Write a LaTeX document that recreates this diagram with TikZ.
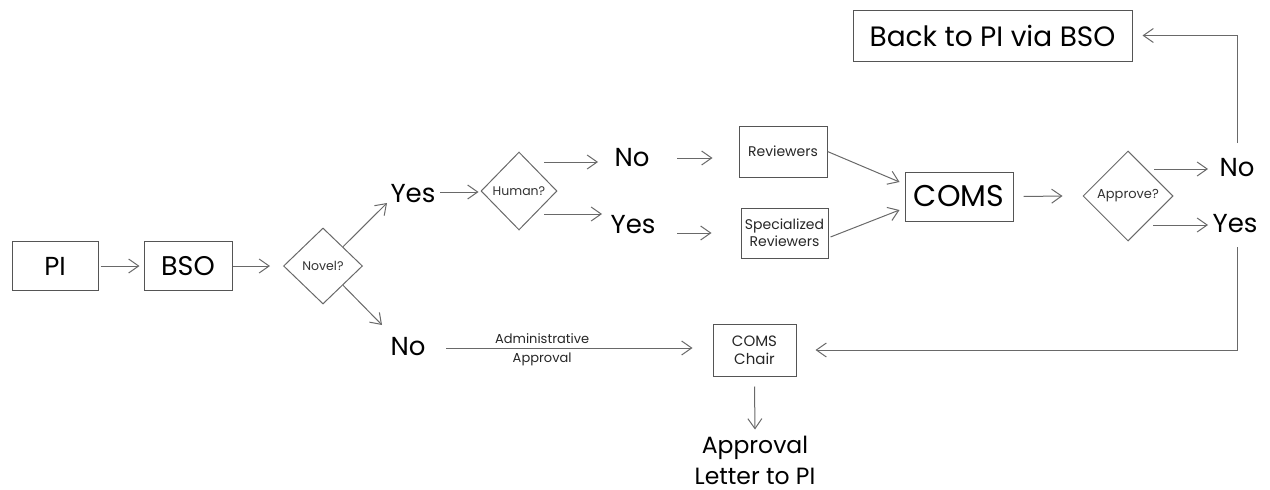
\documentclass[tikz,border=0pt]{standalone}
\usepackage{fontspec}
\setmainfont{Poppins}
\usetikzlibrary{arrows.meta,shapes.geometric}
\definecolor{linegray}{HTML}{696969}
\definecolor{boxgray}{HTML}{555555}
\tikzset{
  big/.style={font=\fontsize{26}{31}\selectfont, inner sep=0pt, text=black},
  small/.style={font=\fontsize{14}{16}\selectfont, inner sep=0pt, text=black!85},
  box/.style={draw=boxgray, line width=1pt, inner sep=0pt, align=center},
  dia/.style={diamond, draw=linegray, line width=1pt, inner sep=0pt, font=\fontsize{12.5}{15}\selectfont, text=black!80},
  arr/.style={draw=linegray, line width=1pt, -{Straight Barb[length=10pt,width=14pt,line width=1pt]}},
  lbl/.style={font=\fontsize{13}{15}\selectfont, inner sep=0pt, text=black!85},
}
\begin{document}
\begin{tikzpicture}[x=1pt,y=-1pt]
\useasboundingbox (0,0) rectangle (1270,490);
% boxes
\node[box,big,minimum width=86pt,minimum height=49pt] (pi) at (55,266) {PI};
\node[box,big,font=\fontsize{27}{31}\selectfont,minimum width=88pt,minimum height=49pt] (bso) at (188,266) {BSO};
\node[dia,minimum width=79pt,minimum height=76pt] (novel) at (323,266) {Novel?};
\node[big] (yes1) at (413,194) {Yes};
\node[big] (no1) at (408,347) {No};
\node[dia,minimum width=76pt,minimum height=78pt] (human) at (519,191) {Human?};
\node[big] (no2) at (632,158) {No};
\node[big] (yes2) at (633,225) {Yes};
\node[box,small,minimum width=88pt,minimum height=51pt] (rev) at (783,151.5) {Reviewers};
\node[box,small,minimum width=87pt,minimum height=50pt,font=\fontsize{14}{17}\selectfont] (spec) at (784.5,233) {Specialized\\Reviewers};
\node[box,font=\fontsize{30}{36}\selectfont,minimum width=108pt,minimum height=49pt] (coms) at (959,196.5) {COMS};
\node[dia,font=\fontsize{13}{15}\selectfont,minimum width=90pt,minimum height=90pt] (appr) at (1128,196) {Approve?};
\node[big] (no3) at (1237,168) {No};
\node[big] (yes3) at (1235,224) {Yes};
\node[box,big,font=\fontsize{28}{31}\selectfont,minimum width=279pt,minimum height=51pt] (back) at (992.5,35.5) {Back to PI via BSO};
\node[box,small,minimum width=83pt,minimum height=52pt,font=\fontsize{15}{18}\selectfont] (chair) at (754.5,350) {COMS\\Chair};
\node[big,font=\fontsize{23.5}{31}\selectfont,align=center] (letter) at (755,460) {Approval\\Letter to PI};
% connectors
\draw[arr,shorten <=2pt,shorten >=4pt] (pi.east) -- (bso.west);
\draw[arr,shorten >=13pt] (bso.east) -- (novel.west);
\draw[arr] (novel.north east) -- ([shift={(-26,9)}]yes1.center);
\draw[arr] (novel.south east) -- ([shift={(-26,-22)}]no1.center);
\draw[arr] ([shift={(27,-2)}]yes1.center) -- ([shift={(-2,1)}]human.west);
\draw[arr] ([shift={(25,-29)}]human.center) -- ([shift={(-34,4)}]no2.center);
\draw[arr] ([shift={(25,23)}]human.center) -- ([shift={(-31,-11)}]yes2.center);
\draw[arr] ([shift={(45,0)}]no2.center) -- ([shift={(-26,6.5)}]rev.west);
\draw[arr] ([shift={(44,8)}]yes2.center) -- ([shift={(-29,0)}]spec.west);
\draw[arr] (rev.east) -- ([shift={(-5,-14.5)}]coms.west);
\draw[arr] ([shift={(2,4)}]spec.east) -- ([shift={(-5,13.5)}]coms.west);
\draw[arr] ([shift={(10,0)}]coms.east) -- ([shift={(-20,0)}]appr.west);
\draw[arr] ([shift={(26,-27)}]appr.center) -- ([shift={(-29,1)}]no3.center);
\draw[arr] ([shift={(25,29)}]appr.center) -- ([shift={(-27,1)}]yes3.center);
\draw[arr] ([shift={(0,-25)}]no3.center) |- ([shift={(10,0)}]back.east);
\draw[arr] ([shift={(2,23)}]yes3.center) |- ([shift={(19,0)}]chair.east);
\draw[arr] ([shift={(38,1)}]no1.center) -- ([shift={(-20,-2)}]chair.west)
  node[pos=0.39,above=4pt,lbl] (adm) {Administrative}
  node[pos=0.39,below=4pt,lbl] (apl) {Approval};
\draw[arr] ([shift={(0,10)}]chair.south) -- ([shift={(0,-6)}]letter.north);
\end{tikzpicture}
\end{document}
